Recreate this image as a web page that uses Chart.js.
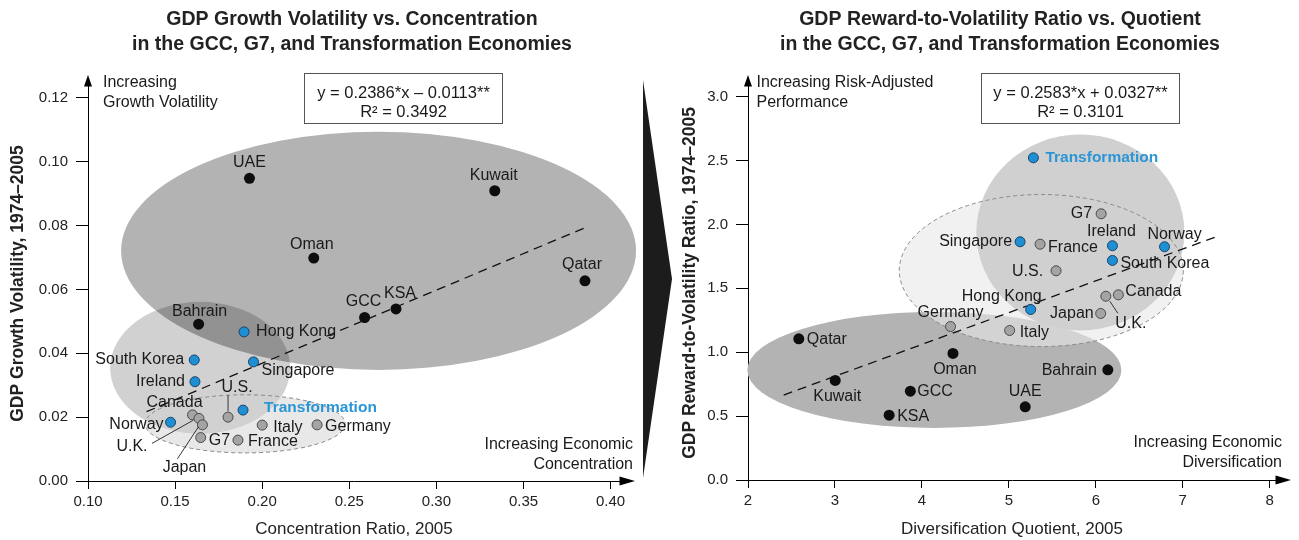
<!DOCTYPE html>
<html><head><meta charset="utf-8">
<script src="https://cdn.jsdelivr.net/npm/chart.js@4.4.1/dist/chart.umd.min.js"></script>
<style>
html,body{margin:0;padding:0;background:#fff;}
#wrap{position:relative;width:1299px;height:540px;overflow:hidden;background:#fff;}
#c1{position:absolute;left:0;top:0;}
#c2{position:absolute;left:660px;top:0;}
#wedge{position:absolute;left:643px;top:80px;width:29px;height:398px;background:#1c1c1c;clip-path:polygon(0 0,100% 50%,0 100%);}
</style></head><body>
<div id="wrap">
<canvas id="c1" width="660" height="540"></canvas>
<canvas id="c2" width="639" height="540"></canvas>
<div id="wedge"></div>
</div>
<script>
// ---------- DATA ----------
const countries = ['UAE','Kuwait','Oman','Qatar','GCC','KSA','Bahrain','Hong Kong','South Korea','Singapore','Ireland','Norway','Transformation','U.S.','Canada','U.K.','Japan','Italy','Germany','G7','France'];
const groups = ['gcc','gcc','gcc','gcc','gcc','gcc','gcc','trans','trans','trans','trans','trans','trans','g7','g7','g7','g7','g7','g7','g7','g7'];
const concentration = [0.1927,0.3335,0.2296,0.3853,0.2588,0.2768,0.1635,0.1896,0.1610,0.1950,0.1614,0.1474,0.1890,0.1804,0.1600,0.1637,0.1657,0.2000,0.2315,0.1647,0.1861];
const volatility = [0.0948,0.0909,0.0698,0.0627,0.0512,0.0539,0.0491,0.0467,0.0379,0.0373,0.0311,0.0184,0.0222,0.0200,0.0207,0.0196,0.0176,0.0175,0.0176,0.0136,0.0128];
const diversification = [5.188,3.003,4.357,2.584,3.867,3.623,6.138,5.251,6.191,5.129,6.191,6.790,5.282,5.543,6.259,6.115,6.056,5.009,4.329,6.061,5.359];
const rewardRatio = [0.573,0.779,0.990,1.105,0.695,0.507,0.862,1.334,1.718,1.864,1.833,1.825,2.521,1.637,1.449,1.438,1.303,1.170,1.201,2.083,1.845];
const trendLeftX = [0.1336, 0.387];
const trendLeftY = [0.0217, 0.0797];
const trendRightX = [2.41, 7.37];
const trendRightY = [0.665, 1.90];
const xTicksLeft = [0.10,0.15,0.20,0.25,0.30,0.35,0.40];
const xTickLabelsLeft = ['0.10','0.15','0.20','0.25','0.30','0.35','0.40'];
const yTicksLeft = [0,0.02,0.04,0.06,0.08,0.10,0.12];
const yTickLabelsLeft = ['0.00','0.02','0.04','0.06','0.08','0.10','0.12'];
const xTicksRight = [2,3,4,5,6,7,8];
const xTickLabelsRight = ['2','3','4','5','6','7','8'];
const yTicksRight = [0,0.5,1,1.5,2,2.5,3];
const yTickLabelsRight = ['0.0','0.5','1.0','1.5','2.0','2.5','3.0'];

// ---------- STYLE / LAYOUT ----------
const FONT = "'Liberation Sans', Arial, Helvetica, sans-serif";
Chart.defaults.font.family = FONT;
Chart.defaults.color = '#222';

const groupStyle = {
  gcc:   {bg:'#0d0d0d', border:'#000000', r:5.5, bw:0},
  trans: {bg:'#1f8fd3', border:'#1d4466', r:5,   bw:1},
  g7:    {bg:'#a4a4a4', border:'#4a4a4a', r:5,   bw:1}
};

const leftLabels = {
  'UAE':['center',0,-16], 'Kuwait':['center',-1,-15], 'Oman':['center',-2,-14], 'Qatar':['center',-3,-16],
  'GCC':['center',-1,-16], 'KSA':['center',4,-15], 'Bahrain':['center',1,-13],
  'Hong Kong':['left',12,0], 'South Korea':['right',-10,0], 'Singapore':['left',8,9], 'Ireland':['right',-10,0],
  'U.S.':['center',9,-30,[0,-22,0,-6]], 'Canada':['center',-18,-12], 'Transformation':['left',21,-2],
  'Norway':['right',-7,2], 'Italy':['left',11,2], 'Germany':['left',8,2], 'G7':['left',8,3], 'France':['left',10,1],
  'U.K.':['center',-67,28,[-47,25,-6,2]], 'Japan':['center',-18,43,[-25,34,-4,2]]
};
const rightLabels = {
  'G7':['right',-9,0], 'Singapore':['right',-8,0], 'France':['left',8,3], 'Ireland':['center',-1,-14],
  'Norway':['center',10,-12], 'South Korea':['left',8,3], 'U.S.':['right',-13,1], 'Canada':['left',7,-3],
  'U.K.':['center',25,27,[4,5,12,17]], 'Japan':['right',-7,0], 'Hong Kong':['center',-29,-13],
  'Germany':['center',0,-14], 'Italy':['left',10,2], 'Qatar':['left',8,1], 'Oman':['center',2,16],
  'Kuwait':['center',2,16], 'GCC':['left',7,0], 'KSA':['left',8,1], 'UAE':['center',0,-15],
  'Bahrain':['right',-11,1], 'Transformation':['left',12,0]
};

const leftShapes = [
  {cx:0.2668, cy:0.0721, rx:0.1478, ry:0.0373, fill:'#b3b3b3'},
  {cx:0.1644, cy:0.0354, rx:0.0517, ry:0.0207, fill:'rgba(0,0,0,0.18)'},
  {cx:0.1902, cy:0.0179, rx:0.0574, ry:0.0091, fill:'#e8e8e8', op:'darken', stroke:'#8a8a8a', dash:[4,3]}
];
const rightShapes = [
  {cx:4.143, cy:0.861, rx:2.151, ry:0.454, fill:'#b3b3b3'},
  {cx:5.373, cy:1.639, rx:1.633, ry:0.595, fill:'rgba(232,232,232,0.6)'},
  {cx:5.822, cy:1.937, rx:1.196, ry:0.767, fill:'#d0d0d0', op:'darken'},
  {cx:5.373, cy:1.639, rx:1.633, ry:0.595, stroke:'#8a8a8a', dash:[4,3]}
];

const leftText = {
  title:['GDP Growth Volatility vs. Concentration','in the GCC, G7, and Transformation Economies'], titleX:352,
  topNote:['Increasing','Growth Volatility'], topNoteX:103,
  rightNote:['Increasing Economic','Concentration'], rightNoteX:633, rightNoteY:445,
  eq:['y = 0.2386*x \u2013 0.0113**','R\u00b2 = 0.3492'], box:[304.5,73.5,198,50]
};
const rightText = {
  title:['GDP Reward-to-Volatility Ratio vs. Quotient','in the GCC, G7, and Transformation Economies'], titleX:340,
  topNote:['Increasing Risk-Adjusted','Performance'], topNoteX:96.5,
  rightNote:['Increasing Economic','Diversification'], rightNoteX:622, rightNoteY:443,
  eq:['y = 0.2583*x + 0.0327**','R\u00b2 = 0.3101'], box:[321.5,73.5,198,50]
};

// ---------- PLUGINS ----------
const whiteBg = {id:'whiteBg', beforeDraw(chart){const c=chart.ctx;c.save();c.fillStyle='#fff';c.fillRect(0,0,chart.width,chart.height);c.restore();}};

function shapesPlugin(shapes){
  return {id:'shapes', beforeDatasetsDraw(chart){
    const {ctx} = chart; const x = chart.scales.x, y = chart.scales.y;
    shapes.forEach(s=>{
      const cx = x.getPixelForValue(s.cx), cy = y.getPixelForValue(s.cy);
      const rx = Math.abs(x.getPixelForValue(s.cx+s.rx)-cx), ry = Math.abs(y.getPixelForValue(s.cy+s.ry)-cy);
      ctx.save();
      ctx.beginPath(); ctx.ellipse(cx,cy,rx,ry,0,0,Math.PI*2);
      if (s.fill){ ctx.globalCompositeOperation = s.op || 'source-over'; ctx.fillStyle = s.fill; ctx.fill(); }
      ctx.globalCompositeOperation = 'source-over';
      if (s.stroke){ ctx.setLineDash(s.dash||[]); ctx.strokeStyle=s.stroke; ctx.lineWidth=1; ctx.stroke(); }
      ctx.restore();
    });
  }};
}

function labelsPlugin(layout){
  return {id:'pointLabels', afterDatasetsDraw(chart){
    const ctx = chart.ctx;
    chart.data.datasets.forEach((ds,di)=>{
      if (!ds.names) return;
      const meta = chart.getDatasetMeta(di);
      meta.data.forEach((el,j)=>{
        const name = ds.names[j]; const L = layout[name]; if (!L) return;
        ctx.save();
        const isT = name === 'Transformation';
        ctx.font = (isT ? 'bold 15.5px ' : '16px ') + FONT;
        ctx.fillStyle = isT ? '#2b95d6' : '#1a1a1a';
        ctx.textAlign = L[0]; ctx.textBaseline = 'middle';
        ctx.fillText(name, el.x + L[1], el.y + L[2]);
        if (L[3]){
          ctx.strokeStyle = '#222'; ctx.lineWidth = 0.9;
          ctx.beginPath(); ctx.moveTo(el.x+L[3][0], el.y+L[3][1]); ctx.lineTo(el.x+L[3][2], el.y+L[3][3]); ctx.stroke();
        }
        ctx.restore();
      });
    });
  }};
}

function decorPlugin(T){
  return {id:'decor', afterDraw(chart){
    const ctx = chart.ctx, ca = chart.chartArea;
    ctx.save();
    // axis arrows
    ctx.fillStyle = '#000';
    ctx.beginPath(); ctx.moveTo(ca.left, ca.top-11); ctx.lineTo(ca.left-4, ca.top+0.5); ctx.lineTo(ca.left+4, ca.top+0.5); ctx.closePath(); ctx.fill();
    ctx.beginPath(); ctx.moveTo(ca.right+15, ca.bottom); ctx.lineTo(ca.right-0.5, ca.bottom-4.5); ctx.lineTo(ca.right-0.5, ca.bottom+4.5); ctx.closePath(); ctx.fill();
    // title
    ctx.fillStyle = '#222'; ctx.textBaseline = 'middle'; ctx.textAlign = 'center';
    ctx.font = 'bold 19.5px ' + FONT;
    ctx.fillText(T.title[0], T.titleX, 20);
    ctx.fillText(T.title[1], T.titleX, 45);
    // notes
    ctx.font = '16px ' + FONT; ctx.fillStyle = '#1a1a1a';
    ctx.textAlign = 'left';
    ctx.fillText(T.topNote[0], T.topNoteX, 83);
    ctx.fillText(T.topNote[1], T.topNoteX, 103);
    ctx.textAlign = 'right';
    ctx.fillText(T.rightNote[0], T.rightNoteX, T.rightNoteY);
    ctx.fillText(T.rightNote[1], T.rightNoteX, T.rightNoteY+20);
    // equation box
    const b = T.box;
    ctx.fillStyle = '#fff'; ctx.fillRect(b[0],b[1],b[2],b[3]);
    ctx.strokeStyle = '#555'; ctx.lineWidth = 1; ctx.strokeRect(b[0],b[1],b[2],b[3]);
    ctx.fillStyle = '#1a1a1a'; ctx.textAlign = 'center'; ctx.font = '16.5px ' + FONT;
    ctx.fillText(T.eq[0], b[0]+b[2]/2, b[1]+19.5);
    ctx.fillText(T.eq[1], b[0]+b[2]/2, b[1]+38.5);
    ctx.restore();
  }};
}

// ---------- BUILD ----------
function pts(xs, ys, g){
  const out = [];
  countries.forEach((c,i)=>{ if (groups[i]===g) out.push({x:xs[i], y:ys[i]}); });
  return out;
}
function names(g){ return countries.filter((c,i)=>groups[i]===g); }
function scatterSets(xs, ys){
  return ['gcc','trans','g7'].map(g=>({
    label:g, names:names(g), data:pts(xs,ys,g),
    backgroundColor:groupStyle[g].bg, borderColor:groupStyle[g].border,
    pointRadius:groupStyle[g].r, pointBorderWidth:groupStyle[g].bw, pointHoverRadius:groupStyle[g].r,
    clip:false
  }));
}
function trendSet(tx, ty){
  return {label:'trend', data:[{x:tx[0],y:ty[0]},{x:tx[1],y:ty[1]}], showLine:true, pointRadius:0,
          borderColor:'#111', borderWidth:1.3, borderDash:[9,6], fill:false, clip:false};
}
function fixedTicks(vals){ return s => { s.ticks = vals.map(v=>({value:v})); }; }
function fmt(vals, labels){ return v => { const i = vals.findIndex(t=>Math.abs(t-v)<1e-9); return i>=0 ? labels[i] : ''; }; }

function build(id, o){
  new Chart(document.getElementById(id), {
    type:'scatter',
    data:{datasets:[...scatterSets(o.xs,o.ys), trendSet(o.tx,o.ty)]},
    options:{
      responsive:false, animation:false, devicePixelRatio:1,
      layout:{padding:o.padding},
      plugins:{legend:{display:false}, tooltip:{enabled:false}, title:{display:false}},
      scales:{
        x:{type:'linear', position:'bottom', min:o.xmin, max:o.xmax,
           afterBuildTicks:fixedTicks(o.xt), afterFit:s=>{s.height=o.xh;},
           grid:{drawOnChartArea:false, drawTicks:true, tickLength:8, color:'#000', lineWidth:1},
           border:{display:true, color:'#000', width:1},
           ticks:{font:{size:15}, color:'#222', padding:4, maxRotation:0, autoSkip:false, callback:fmt(o.xt,o.xl)},
           title:{display:true, text:o.xtitle, font:{size:17}, color:'#222', padding:{top:0,bottom:0}}},
        y:{type:'linear', position:'left', min:o.ymin, max:o.ymax,
           afterBuildTicks:fixedTicks(o.yt), afterFit:s=>{s.width=o.yw;},
           grid:{drawOnChartArea:false, drawTicks:true, tickLength:12, color:'#000', lineWidth:1},
           border:{display:true, color:'#000', width:1},
           ticks:{font:{size:15}, color:'#222', padding:8, autoSkip:false, callback:fmt(o.yt,o.yl)},
           title:{display:true, text:o.ytitle, font:{size:17.5, weight:'bold'}, color:'#222', padding:{top:o.ytp,bottom:o.ytp}}}
      }
    },
    plugins:[whiteBg, shapesPlugin(o.shapes), labelsPlugin(o.labels), decorPlugin(o.text)]
  });
}

build('c1', {xs:concentration, ys:volatility, tx:trendLeftX, ty:trendLeftY,
  xmin:0.10, xmax:0.4054, ymin:0, ymax:0.1237, xt:xTicksLeft, xl:xTickLabelsLeft, yt:yTicksLeft, yl:yTickLabelsLeft,
  xh:59, yw:88, ytp:7.5, padding:{top:86,right:40,bottom:0,left:0},
  xtitle:'Concentration Ratio, 2005', ytitle:'GDP Growth Volatility, 1974\u20132005',
  shapes:leftShapes, labels:leftLabels, text:leftText});

build('c2', {xs:diversification, ys:rewardRatio, tx:trendRightX, ty:trendRightY,
  xmin:2, xmax:8.072, ymin:0, ymax:3.083, xt:xTicksRight, xl:xTickLabelsRight, yt:yTicksRight, yl:yTickLabelsRight,
  xh:60, yw:88, ytp:19.5, padding:{top:86,right:23,bottom:0,left:0},
  xtitle:'Diversification Quotient, 2005', ytitle:'GDP Reward-to-Volatility Ratio, 1974\u20132005',
  shapes:rightShapes, labels:rightLabels, text:rightText});
</script>
</body></html>
